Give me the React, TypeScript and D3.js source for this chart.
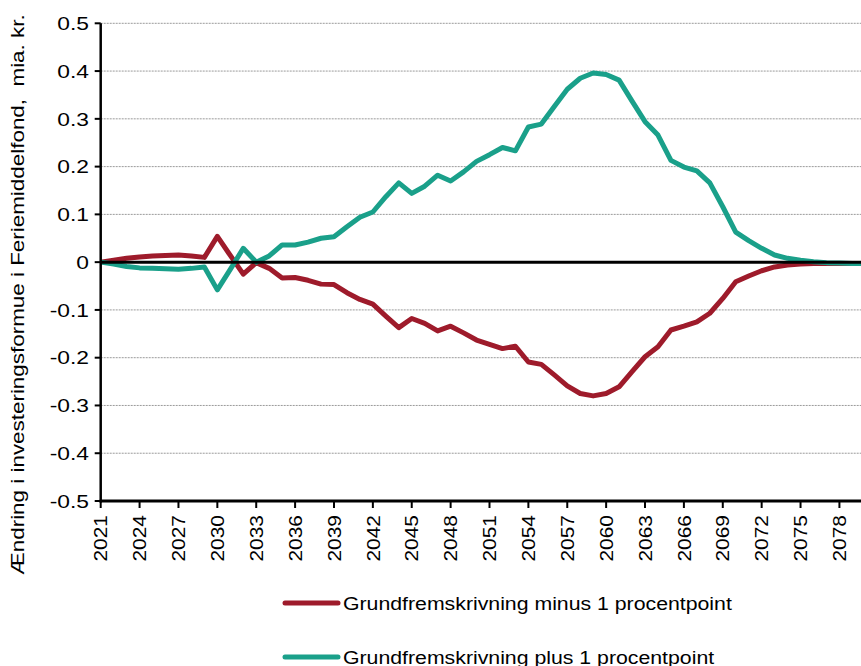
import React from "react";
import * as d3 from "d3";

const years: number[] = d3.range(2021, 2081);

const minusSeries: number[] = [
  0, 0.004, 0.008, 0.011, 0.013, 0.014, 0.015, 0.013, 0.01, 0.054,
  0.014, -0.025, -0.001, -0.013, -0.033, -0.032, -0.038, -0.046, -0.047, -0.064,
  -0.078, -0.088, -0.113, -0.137, -0.118, -0.128, -0.144, -0.134, -0.148, -0.163,
  -0.172, -0.181, -0.176, -0.209, -0.214, -0.236, -0.259, -0.275, -0.28, -0.275,
  -0.261, -0.229, -0.198, -0.177, -0.142, -0.134, -0.125, -0.107, -0.076, -0.041,
  -0.029, -0.018, -0.01, -0.006, -0.004, -0.003, -0.003, -0.003, -0.003, -0.003,
];

const plusSeries: number[] = [
  0, -0.004, -0.009, -0.012, -0.013, -0.014, -0.015, -0.013, -0.01, -0.058,
  -0.015, 0.029, 0.0, 0.013, 0.036, 0.036, 0.042, 0.05, 0.053, 0.074,
  0.094, 0.105, 0.137, 0.166, 0.144, 0.159, 0.182, 0.17, 0.189, 0.211,
  0.225, 0.24, 0.233, 0.283, 0.289, 0.326, 0.362, 0.385, 0.396, 0.393,
  0.381, 0.337, 0.294, 0.266, 0.213, 0.199, 0.191, 0.166, 0.116, 0.063,
  0.045, 0.029, 0.015, 0.008, 0.004, 0.001, -0.001, -0.002, -0.003, -0.003,
];

const yTicks: number[] = [0.5, 0.4, 0.3, 0.2, 0.1, 0, -0.1, -0.2, -0.3, -0.4, -0.5];
const xTickYears: number[] = d3.range(2021, 2079, 3);

const seriesNames: string[] = [
  "Grundfremskrivning minus 1 procentpoint",
  "Grundfremskrivning plus 1 procentpoint",
];
const seriesColors: string[] = ["#9E1B2B", "#1AA08A"];
const yTitle = "Ændring i investeringsformue i Feriemiddelfond,  mia. kr.";

export default function App() {
  const W = 861;
  const H = 666;
  const x = d3.scaleLinear().domain([2021, 2080]).range([100.7, 100.7 + 59 * 12.96]);
  const y = d3.scaleLinear().domain([-0.5, 0.5]).range([501, 23.3]);
  const font = "'Liberation Sans', Arial, sans-serif";
  const fs = 19;
  const line = d3
    .line<number>()
    .x((_, i) => x(years[i]))
    .y((d) => y(d));
  const allSeries = [minusSeries, plusSeries];

  return (
    <svg
      width={W}
      height={H}
      style={{ position: "absolute", left: 0, top: 0, background: "#fff" }}
      fontFamily={font}
    >
      {/* gridlines */}
      {yTicks
        .filter((t) => t !== 0 && t !== -0.5)
        .map((t) => (
          <line
            key={"g" + t}
            x1={x(2021)}
            x2={W}
            y1={y(t)}
            y2={y(t)}
            stroke="#9a9a9a"
            strokeWidth={1}
            strokeDasharray="2,1"
          />
        ))}
      {/* series */}
      {allSeries.map((s, i) => (
        <path
          key={"s" + i}
          d={line(s) || ""}
          fill="none"
          stroke={seriesColors[i]}
          strokeWidth={5}
          strokeLinejoin="round"
        />
      ))}
      {/* zero line */}
      <line x1={x(2021)} x2={W} y1={y(0)} y2={y(0)} stroke="#000" strokeWidth={3} />
      {/* y axis */}
      <line x1={x(2021)} x2={x(2021)} y1={y(0.5)} y2={y(-0.5) + 1.5} stroke="#000" strokeWidth={2.5} />
      {yTicks.map((t) => (
        <g key={"yt" + t}>
          <line x1={x(2021) - 6} x2={x(2021)} y1={y(t)} y2={y(t)} stroke="#000" strokeWidth={2} />
          <text
            transform={`translate(89,${y(t)}) scale(1.2,1)`}
            textAnchor="end"
            dominantBaseline="central"
            fontSize={fs}
            fill="#000"
          >
            {t === 0 ? "0" : t.toFixed(1)}
          </text>
        </g>
      ))}
      {/* x axis */}
      <line x1={x(2021) - 1} x2={W} y1={y(-0.5)} y2={y(-0.5)} stroke="#000" strokeWidth={3} />
      {xTickYears.map((yr) => (
        <g key={"xt" + yr}>
          <line x1={x(yr)} x2={x(yr)} y1={y(-0.5)} y2={y(-0.5) + 7} stroke="#000" strokeWidth={2} />
          <text
            transform={`translate(${x(yr)},${y(-0.5) + 14}) rotate(-90) scale(1.1,1)`}
            textAnchor="end"
            dominantBaseline="central"
            fontSize={fs}
            fill="#000"
          >
            {yr}
          </text>
        </g>
      ))}
      {/* y title */}
      <text
        transform={`translate(17,294.5) rotate(-90) scale(1.18,1)`}
        textAnchor="middle"
        dominantBaseline="central"
        fontSize={fs}
        fill="#000"
        style={{ whiteSpace: "pre" }}
      >
        {yTitle}
      </text>
      {/* legend */}
      {seriesNames.map((name, i) => {
        const ly = 603 + i * 54;
        return (
          <g key={"l" + i}>
            <line
              x1={285}
              x2={338}
              y1={ly}
              y2={ly}
              stroke={seriesColors[i]}
              strokeWidth={5}
              strokeLinecap="round"
            />
            <text
              transform={`translate(343,${ly}) scale(1.12,1)`}
              dominantBaseline="central"
              fontSize={fs}
              fill="#000"
            >
              {name}
            </text>
          </g>
        );
      })}
    </svg>
  );
}
